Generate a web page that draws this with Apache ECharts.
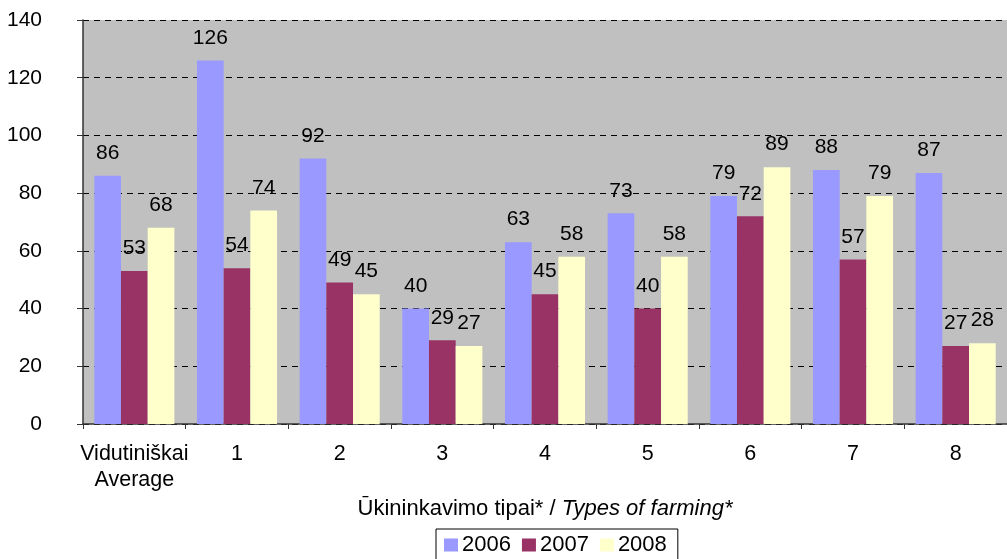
<!DOCTYPE html>
<html><head><meta charset="utf-8">
<script src="https://cdn.jsdelivr.net/npm/echarts@6/dist/echarts.min.js"></script>
<style>html,body{margin:0;padding:0;background:#fff}#c{width:1007px;height:559px}</style>
</head><body><div id="c"></div>
<script>
const categories = ['Vidutiniškai\nAverage', '1', '2', '3', '4', '5', '6', '7', '8'];
const seriesNames = ['2006', '2007', '2008'];
const values2006 = [86, 126, 92, 40, 63, 73, 79, 88, 87];
const values2007 = [53, 54, 49, 29, 45, 40, 72, 57, 27];
const values2008 = [68, 74, 45, 27, 58, 58, 89, 79, 28];
const colors = ['#9999FF', '#993366', '#FFFFCC'];
const yTicks = [0, 20, 40, 60, 80, 100, 120, 140];

const font = 'Liberation Sans, Arial, sans-serif';
const FS = 22;
const chart = echarts.init(document.getElementById('c'), null, {renderer: 'canvas'});
const mk = (name, data, color) => ({
  name, type: 'bar', data, barGap: '0%', barCategoryGap: '22%',
  itemStyle: {color},
  label: {show: true, position: 'top', distance: 12, color: '#000', fontSize: 21, fontFamily: font},
  animation: false
});
chart.setOption({
  animation: false,
  backgroundColor: '#fff',
  grid: {left: 83, top: 20, width: 927, height: 404, backgroundColor: '#C0C0C0', show: true, borderWidth: 0},
  xAxis: {
    type: 'category', data: categories,
    axisLine: {lineStyle: {color: '#333', width: 1.5}},
    axisTick: {show: true, interval: 0, length: 5, lineStyle: {color: '#333'}},
    axisLabel: {interval: 0, fontSize: 21.5, color: '#000', fontFamily: font, margin: 17, lineHeight: 26},
    name: '{a|Ūkininkavimo tipai* / }{b|Types of farming*}',
    nameLocation: 'middle', nameGap: 73,
    nameTextStyle: {rich: {a: {fontSize: FS, color: '#000', fontFamily: font}, b: {fontSize: FS, color: '#000', fontFamily: font, fontStyle: 'italic'}}}
  },
  yAxis: {
    type: 'value', min: yTicks[0], max: yTicks[yTicks.length - 1], interval: 20,
    axisLine: {show: true, lineStyle: {color: '#333', width: 1.5}},
    axisTick: {show: true, length: 6, lineStyle: {color: '#333'}},
    axisLabel: {fontSize: 21, color: '#000', fontFamily: font, margin: 41},
    splitLine: {show: true, lineStyle: {color: '#000', type: [6, 5], width: 1}}
  },
  legend: {
    top: 529, left: 436, itemWidth: 14, itemHeight: 13, itemGap: 11,
    borderColor: '#000', borderWidth: 1, padding: [5, 11, 5, 8],
    textStyle: {fontSize: FS, color: '#000', fontFamily: font, padding: [0, 0, 0, -1]},
    data: seriesNames.map(n => ({name: n, icon: 'rect'}))
  },
  series: [mk(seriesNames[0], values2006, colors[0]), mk(seriesNames[1], values2007, colors[1]), mk(seriesNames[2], values2008, colors[2])]
});
</script></body></html>
